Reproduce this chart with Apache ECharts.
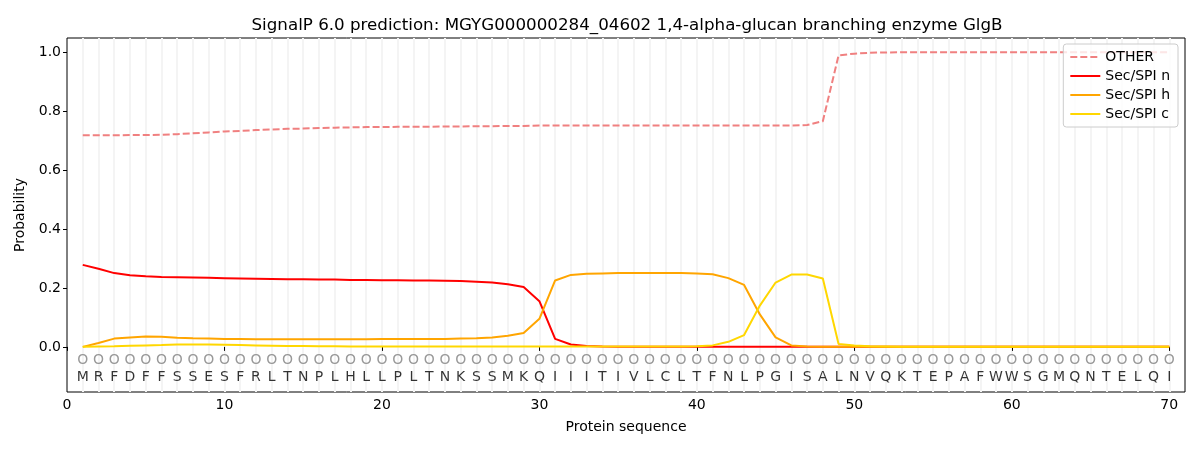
<!DOCTYPE html>
<html lang="en">
<head>
    <meta charset="UTF-8">
    <title>SignalP</title>
    <script src="https://cdn.jsdelivr.net/npm/echarts@6/dist/echarts.min.js"></script>
    <style>
        body { margin: 0; padding: 0; background: #fff; }
        #chart { width: 1200px; height: 450px; }
    </style>
</head>
<body>
    <div id="chart"></div>
    <script>
        // sequence residues, positions 1..70
        const residues = 'MRFDFFSSESFRLTNPLHLLPLTNKSSMKQIIITIVLCLTFNLPGISALNVQKTEPAFWWSGMQNTELQI'.split('');

        const otherProb = [0.717, 0.717, 0.717, 0.718, 0.718, 0.719, 0.721, 0.724, 0.727, 0.730,
            0.732, 0.735, 0.737, 0.739, 0.740, 0.742, 0.743, 0.744, 0.745, 0.745,
            0.746, 0.746, 0.746, 0.747, 0.747, 0.748, 0.748, 0.749, 0.749, 0.750,
            0.750, 0.750, 0.750, 0.750, 0.750, 0.750, 0.750, 0.750, 0.750, 0.750,
            0.750, 0.750, 0.750, 0.750, 0.750, 0.750, 0.752, 0.765, 0.988, 0.994,
            0.997, 0.998, 0.999, 0.999, 0.999, 0.999, 0.999, 0.999, 0.999, 0.999,
            0.999, 0.999, 0.999, 0.999, 0.999, 0.999, 0.999, 0.999, 0.999, 0.999];
        const secN = [0.278, 0.265, 0.250, 0.243, 0.239, 0.237, 0.236, 0.235, 0.234, 0.233,
            0.232, 0.231, 0.230, 0.229, 0.229, 0.228, 0.228, 0.227, 0.227, 0.226,
            0.226, 0.225, 0.225, 0.224, 0.223, 0.221, 0.218, 0.212, 0.203, 0.155,
            0.027, 0.008, 0.003, 0.001, 0, 0, 0, 0, 0, 0,
            0, 0, 0, 0, 0, 0, 0, 0, 0, 0,
            0, 0, 0, 0, 0, 0, 0, 0, 0, 0,
            0, 0, 0, 0, 0, 0, 0, 0, 0, 0];
        const secH = [0.000, 0.013, 0.028, 0.032, 0.035, 0.034, 0.031, 0.029, 0.028, 0.027,
            0.027, 0.026, 0.026, 0.026, 0.026, 0.026, 0.026, 0.026, 0.026, 0.027,
            0.027, 0.027, 0.027, 0.027, 0.028, 0.029, 0.032, 0.038, 0.047, 0.095,
            0.225, 0.244, 0.248, 0.249, 0.250, 0.250, 0.250, 0.250, 0.250, 0.249,
            0.246, 0.233, 0.210, 0.110, 0.032, 0.005, 0.001, 0, 0, 0,
            0, 0, 0, 0, 0, 0, 0, 0, 0, 0,
            0, 0, 0, 0, 0, 0, 0, 0, 0, 0];
        const secC = [0.000, 0.001, 0.002, 0.004, 0.005, 0.006, 0.008, 0.008, 0.008, 0.007,
            0.006, 0.005, 0.004, 0.003, 0.003, 0.002, 0.002, 0.001, 0.001, 0.001,
            0.001, 0.001, 0.001, 0.001, 0.001, 0.001, 0.001, 0.001, 0.001, 0.001,
            0.001, 0.001, 0.001, 0.001, 0.001, 0.001, 0.001, 0.001, 0.001, 0.002,
            0.005, 0.017, 0.040, 0.140, 0.218, 0.245, 0.245, 0.232, 0.010, 0.005,
            0.002, 0.001, 0, 0, 0, 0, 0, 0, 0, 0,
            0, 0, 0, 0, 0, 0, 0, 0, 0, 0];

        const xTicks = [0, 10, 20, 30, 40, 50, 60, 70];
        const yTicks = [0, 0.2, 0.4, 0.6, 0.8, 1.0];

        const toPts = arr => arr.map((v, i) => [i + 1, v]);
        const font = 'DejaVu Sans';

        const chart = echarts.init(document.getElementById('chart'));
        const lineSeries = (name, data, color, dashed) => ({
            name: name,
            type: 'line',
            data: toPts(data),
            symbol: 'none',
            xAxisIndex: 0,
            lineStyle: { color: color, width: 2, type: dashed ? [7, 3] : 'solid' },
            itemStyle: { color: color },
            z: 3
        });
        const textRow = (y, textOf, color) => ({
            type: 'scatter', silent: true,
            data: residues.map((r, i) => ({ value: [i + 1, y], name: textOf(r) })),
            symbolSize: 0,
            label: { show: true, position: 'inside', formatter: p => p.name,
                fontFamily: font, fontSize: 14, color: color },
            z: 2
        });

        chart.setOption({
            animation: false,
            title: {
                text: 'SignalP 6.0 prediction: MGYG000000284_04602 1,4-alpha-glucan branching enzyme GlgB',
                left: 622, top: 12, textAlign: 'center',
                textStyle: { fontFamily: font, fontSize: 16.7, fontWeight: 'normal', color: '#000' }
            },
            grid: { left: 67, right: 15, top: 38, bottom: 58, show: true, borderColor: '#000', borderWidth: 1, backgroundColor: 'transparent' },
            legend: {
                orient: 'vertical', right: 22, top: 44,
                itemWidth: 30, itemHeight: 10, itemGap: 5,
                padding: [6, 8, 6, 6],
                backgroundColor: 'rgba(255,255,255,0.8)', borderColor: '#ccc', borderWidth: 1, borderRadius: 3,
                itemStyle: { opacity: 0 },
                textStyle: { fontFamily: font, fontSize: 14, color: '#000' },
                data: ['OTHER', 'Sec/SPI n', 'Sec/SPI h', 'Sec/SPI c']
            },
            xAxis: [{
                type: 'value', min: 0, max: 71, interval: 10,
                name: 'Protein sequence', nameLocation: 'middle', nameGap: 28,
                nameTextStyle: { fontFamily: font, fontSize: 14, color: '#000' },
                axisLine: { show: false },
                axisTick: { show: true, length: 4, customValues: xTicks, lineStyle: { color: '#000' } },
                axisLabel: { fontFamily: font, fontSize: 14, color: '#000', margin: 6,
                    customValues: xTicks },
                splitLine: { show: false }
            }, {
                type: 'value', min: 0, max: 71, interval: 1, position: 'bottom',
                axisLine: { show: false }, axisTick: { show: false }, axisLabel: { show: false },
                splitLine: { show: true, showMinLine: false, showMaxLine: false,
                    lineStyle: { color: '#f4f4f4', width: 2 } }
            }],
            yAxis: {
                type: 'value', min: -0.153, max: 1.047,
                name: 'Probability', nameLocation: 'middle', nameGap: 40,
                nameTextStyle: { fontFamily: font, fontSize: 14, color: '#000' },
                axisLine: { show: false },
                axisTick: { show: true, length: 4, customValues: yTicks, lineStyle: { color: '#000' } },
                axisLabel: { fontFamily: font, fontSize: 14, color: '#000', margin: 6,
                    customValues: yTicks, formatter: v => v.toFixed(1) },
                splitLine: { show: false }
            },
            series: [
                lineSeries('OTHER', otherProb, '#f08080', true),
                lineSeries('Sec/SPI n', secN, '#ff0000', false),
                lineSeries('Sec/SPI h', secH, '#ffa500', false),
                lineSeries('Sec/SPI c', secC, '#ffd700', false),
                textRow(-0.047, r => 'O', '#808080'),
                textRow(-0.102, r => r, '#000')
            ]
        });
    </script>
</body>
</html>
